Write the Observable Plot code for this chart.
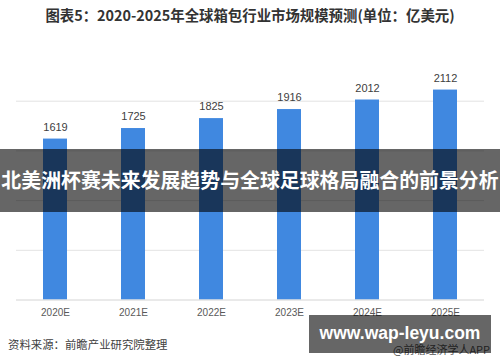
<!DOCTYPE html>
<html><head><meta charset="utf-8">
<script src="https://cdn.jsdelivr.net/npm/d3@7"></script>
<script src="https://cdn.jsdelivr.net/npm/@observablehq/plot@0.6"></script>
<style>
body{margin:0;background:#fff;}
#wrap{position:relative;width:500px;height:362px;overflow:hidden;background:#fff;font-family:"Noto Sans CJK SC","Noto Sans",sans-serif;}
#wrap svg{position:absolute;left:0;top:0;}
.abs{position:absolute;}
#title{left:0;top:5px;width:500px;text-align:center;font-size:14.4px;font-weight:bold;color:#333;line-height:20px;white-space:nowrap;}
#band{left:0;top:149px;width:500px;height:63px;background:rgba(0,0,0,0.6);color:#fff;font-weight:bold;font-size:19.9px;line-height:62px;text-align:center;white-space:nowrap;}
#source{left:8px;top:335px;font-size:11.4px;color:#404040;line-height:18px;}
#app{left:393px;top:340px;font-size:11px;color:#555;line-height:18px;white-space:nowrap;}
#box{left:309px;top:315px;width:182px;height:38px;background:rgba(0,0,0,0.6);color:#fff;font-family:"Liberation Sans",Arial,sans-serif;font-weight:bold;font-size:17.5px;line-height:36px;text-align:center;}
</style></head>
<body>
<div id="wrap">
  <div id="chart"></div>
  <div id="title" class="abs">图表5：2020-2025年全球箱包行业市场规模预测(单位：亿美元)</div>
  <div id="band" class="abs">北美洲杯赛未来发展趋势与全球足球格局融合的前景分析</div>
  <div id="source" class="abs">资料来源：前瞻产业研究院整理</div>
  <div id="app" class="abs">@前瞻经济学人APP</div>
  <div id="box" class="abs">www.wap-leyu.com</div>
</div>
<script>
const years = ["2020E","2021E","2022E","2023E","2024E","2025E"];
const values = [1619,1725,1825,1916,2012,2112];
const gridTicks = [500,1000,1500,2000];

const data = years.map((y,i)=>({year:y, value:values[i]}));

const chart = Plot.plot({
  width: 500,
  height: 362,
  marginTop: 51,
  marginBottom: 62.5,
  marginLeft: 16,
  marginRight: 16,
  style: {background:"transparent", fontFamily:"'Liberation Sans', Arial, sans-serif"},
  x: {domain: years, paddingInner: 0.69, paddingOuter: 0.345, label: null},
  y: {domain: [0,2500], axis: null},
  marks: [
    Plot.ruleY(gridTicks, {stroke:"#e3e3e3", strokeWidth:1}),
    Plot.barY(data, {x:"year", y:"value", fill:"#4088e0"}),
    Plot.ruleY([0], {stroke:"#d4d4d4", strokeWidth:1}),
    Plot.text(data, {x:"year", y:"value", text: d=>String(d.value), dy:-12, fill:"#404040", fontSize:11}),
    Plot.axisX({tickSize:0, tickPadding:9, fontSize:10, color:"#595959", label:null})
  ]
});
document.getElementById("chart").appendChild(chart);
</script>
</body></html>
